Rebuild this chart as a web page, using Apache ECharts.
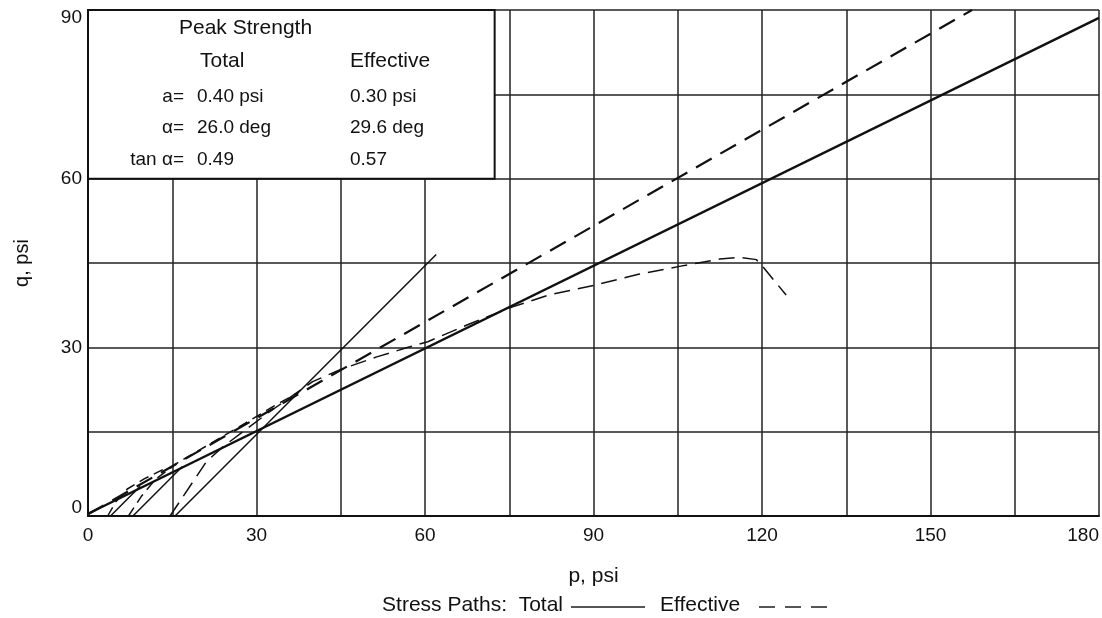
<!DOCTYPE html>
<html>
<head>
<meta charset="utf-8">
<script src="https://cdn.jsdelivr.net/npm/echarts@6/dist/echarts.min.js"></script>
<style>
html,body{margin:0;padding:0;background:#fff;}
#c{width:1102px;height:618px;}
</style>
</head>
<body>
<div id="c"></div>
<script>
// ---- data (p, q in psi) ----
const totalEnvelope = [[0, 0.4], [180, 88.6]];
const effectiveEnvelope = [[0, 0.3], [157.4, 90]];
const totalPath1 = [[4, 0], [9.3, 5.3]];
const totalPath2 = [[8, 0], [16.8, 8.8]];
const totalPath3 = [[15.5, 0], [62, 46.5]];
const effPath1 = [[3.5, 0], [5, 2.6], [7, 4.8], [10, 6.6], [14, 8.6]];
const effPath2 = [[7.2, 0], [9.5, 3.5], [12, 6.5], [16, 9.5], [22, 13], [28, 16.5], [33, 19.5], [37.5, 22]];
const effPath3 = [[14.6, 0], [19.3, 7], [21.1, 9.7], [24, 12.3], [32, 18.3], [40, 23.9], [44.8, 26], [51.4, 28.3], [57, 30], [60.5, 31], [68, 34.2], [75.6, 37.2], [82, 39.3], [90, 41], [98, 43], [105.3, 44.4], [112.5, 45.7], [116, 46], [119, 45.6], [120.1, 44.4], [124.3, 39.3]];
const pTicks = [0, 30, 60, 90, 120, 150, 180];
const qTicks = [0, 30, 60, 90];
const boxCorners = [[0, 60], [72.4, 90]];
const boxRows = [
  ['a=', '0.40 psi', '0.30 psi'],
  ['\u03b1=', '26.0 deg', '29.6 deg'],
  ['tan \u03b1=', '0.49', '0.57']
];

const INK = '#111';
const FONT = 'Liberation Sans, Arial, sans-serif';

function solid(data, w) {
  return { type: 'line', data, symbol: 'none', silent: true, z: 3,
    lineStyle: { color: INK, width: w, type: 'solid' } };
}
function dashed(data, w, dash) {
  return { type: 'line', data, symbol: 'none', silent: true, z: 3,
    lineStyle: { color: INK, width: w, type: dash } };
}

const boxSeries = {
  type: 'line', data: [], symbol: 'none', silent: true, z: 4,
  markArea: {
    silent: true,
    itemStyle: { color: '#fff', borderColor: INK, borderWidth: 2, opacity: 1 },
    label: { show: false },
    data: [[{ coord: boxCorners[0] }, { coord: boxCorners[1] }]]
  }
};

const rowY = [97, 128, 160];
const graphics = [
  { type: 'text', z: 100, style: { text: 'Peak Strength', x: 179, y: 28, font: '21px ' + FONT, fill: INK, textVerticalAlign: 'middle' } },
  { type: 'text', z: 100, style: { text: 'Total', x: 200, y: 61, font: '21px ' + FONT, fill: INK, textVerticalAlign: 'middle' } },
  { type: 'text', z: 100, style: { text: 'Effective', x: 350, y: 61, font: '21px ' + FONT, fill: INK, textVerticalAlign: 'middle' } }
];
boxRows.forEach((r, i) => {
  graphics.push({ type: 'text', z: 100, style: { text: r[0], x: 184, y: rowY[i], font: '19px ' + FONT, fill: INK, textAlign: 'right', textVerticalAlign: 'middle' } });
  graphics.push({ type: 'text', z: 100, style: { text: r[1], x: 197, y: rowY[i], font: '19px ' + FONT, fill: INK, textVerticalAlign: 'middle' } });
  graphics.push({ type: 'text', z: 100, style: { text: r[2], x: 350, y: rowY[i], font: '19px ' + FONT, fill: INK, textVerticalAlign: 'middle' } });
});
// legend line
graphics.push({ type: 'text', z: 100, style: { text: 'Stress Paths:  Total', x: 563, y: 605, font: '21px ' + FONT, fill: INK, textAlign: 'right', textVerticalAlign: 'middle' } });
graphics.push({ type: 'line', z: 100, shape: { x1: 571, y1: 607, x2: 645, y2: 607 }, style: { stroke: '#555', lineWidth: 2 } });
graphics.push({ type: 'text', z: 100, style: { text: 'Effective', x: 660, y: 605, font: '21px ' + FONT, fill: INK, textVerticalAlign: 'middle' } });
graphics.push({ type: 'line', z: 100, shape: { x1: 759, y1: 607, x2: 836, y2: 607 }, style: { stroke: '#555', lineWidth: 2, lineDash: [16, 10] } });

const chart = echarts.init(document.getElementById('c'));
chart.setOption({
  animation: false,
  backgroundColor: '#fff',
  grid: { left: 88, right: 3, top: 10, bottom: 102, containLabel: false, outerBoundsMode: 'none' },
  xAxis: {
    type: 'value', min: 0, max: 180, interval: 15,
    name: 'p, psi', nameLocation: 'middle', nameGap: 50,
    nameTextStyle: { fontSize: 21, color: INK, fontFamily: FONT },
    axisLine: { show: true, lineStyle: { color: INK, width: 2 } },
    axisTick: { show: false },
    axisLabel: { fontSize: 19, color: INK, fontFamily: FONT, margin: 10,
      alignMaxLabel: 'right',
      formatter: v => (pTicks.indexOf(v) >= 0 ? String(v) : '') },
    splitLine: { show: true, lineStyle: { color: '#222', width: 1.5 } }
  },
  yAxis: {
    type: 'value', min: 0, max: 90, interval: 15,
    name: 'q, psi', nameLocation: 'middle', nameGap: 56, nameRotate: 90,
    nameTextStyle: { fontSize: 20, color: INK, fontFamily: FONT },
    axisLine: { show: true, lineStyle: { color: INK, width: 2 } },
    axisTick: { show: false },
    axisLabel: { fontSize: 19, color: INK, fontFamily: FONT, margin: 6,
      formatter: v => {
        if (qTicks.indexOf(v) < 0) return '';
        if (v === 90) return '{hi|' + v + '}';
        if (v === 0) return '{lo|' + v + '}';
        return String(v);
      },
      rich: {
        hi: { fontSize: 19, color: INK, fontFamily: FONT, padding: [16, 0, 0, 0] },
        lo: { fontSize: 19, color: INK, fontFamily: FONT, padding: [0, 0, 16, 0] }
      }
    },
    splitLine: { show: true, lineStyle: { color: '#222', width: 1.5 } }
  },
  graphic: graphics,
  series: [
    boxSeries,
    solid(totalEnvelope, 2.5),
    dashed(effectiveEnvelope, 2.2, [18, 10]),
    solid(totalPath1, 1.5),
    solid(totalPath2, 1.5),
    solid(totalPath3, 1.5),
    dashed(effPath1, 1.5, [10, 6]),
    dashed(effPath2, 1.5, [10, 6]),
    dashed(effPath3, 1.5, [16, 8])
  ]
});
</script>
</body>
</html>
